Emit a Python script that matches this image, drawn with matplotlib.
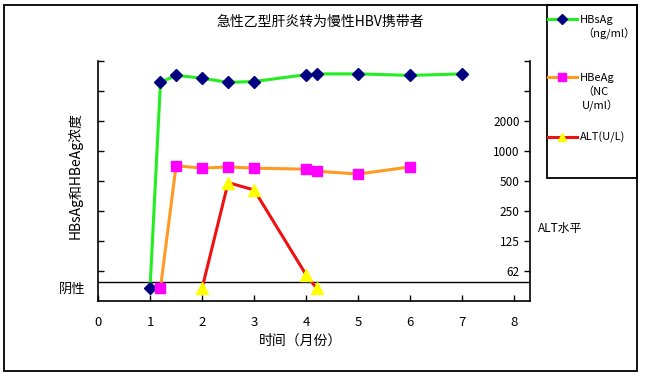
"""急性乙型肝炎转为慢性HBV携带者 chart."""

import matplotlib

matplotlib.use("Agg")
import matplotlib.pyplot as plt
from matplotlib.patches import Rectangle

# value used for "阴性" (negative) results, and the level of the divider line
NEG = 42
NEG_LINE = 48

months_s = [1, 1.2, 1.5, 2, 2.5, 3, 4, 4.2, 5, 6, 7]
hbsag = [NEG, 4850, 5700, 5350, 4850, 4950, 5800, 5900, 5900, 5700, 5900]

months_e = [1.2, 1.5, 2, 2.5, 3, 4, 4.2, 5, 6]
hbeag = [NEG, 710, 670, 690, 670, 655, 625, 585, 690]

months_alt = [2, 2.5, 3, 4, 4.2]
alt = [NEG, 480, 405, 57, NEG]

y_ticks = [62.5, 125, 250, 500, 1000, 2000, 4000, 8000]
y_labels = ["62", "125", "250", "500", "1000", "2000", "", ""]
x_ticks = [0, 1, 2, 3, 4, 5, 6, 7, 8]


def main() -> None:
    plt.rcParams["font.family"] = ["Noto Sans CJK SC", "DejaVu Sans"]
    W, H = 662, 390
    fig = plt.figure(figsize=(W / 100, H / 100), dpi=100)

    def fx(px):
        return px / W

    def fy(py):
        return 1 - py / H

    ax = fig.add_axes([fx(98), fy(301), fx(530) - fx(98), fy(60.7) - fy(301)])

    ax.plot(months_s, hbsag, color="#22ee22", lw=2.2, marker="D", ms=6.5,
            mfc="#000080", mec="#000080", label="HBsAg", zorder=3)
    ax.plot(months_e, hbeag, color="#ff9922", lw=2.2, marker="s", ms=7.5,
            mfc="#ff00ff", mec="#ff00ff", label="HBeAg", zorder=3)
    ax.plot(months_alt, alt, color="#ee1111", lw=2.2, marker="^", ms=8.5,
            mfc="#ffff00", mec="#ffff00", label="ALT(U/L)", zorder=4)
    ax.axhline(NEG_LINE, color="black", lw=1, zorder=2)

    ax.set_yscale("log", base=2)
    ax.set_ylim(31.25, 8000)
    ax.set_xlim(0, 8.3)
    ax.set_yticks(y_ticks, y_labels)
    ax.yaxis.set_minor_locator(matplotlib.ticker.FixedLocator([NEG]))
    ax.yaxis.set_minor_formatter(matplotlib.ticker.FixedFormatter(["阴性"]))
    ax.set_xticks(x_ticks)

    ax.spines["top"].set_visible(False)
    for s in ("left", "right", "bottom"):
        ax.spines[s].set_linewidth(1.2)

    ax.tick_params(axis="x", direction="in", length=4, width=1, pad=11, labelsize=9.5)
    ax.tick_params(axis="y", which="major", direction="in", length=4, width=1,
                   left=True, right=True, labelleft=False, labelright=True,
                   pad=-7.5, labelsize=8.5)
    ax.tick_params(axis="y", which="minor", length=0, left=True, right=False,
                   labelleft=True, labelright=False, pad=9, labelsize=9.5)
    for t in ax.yaxis.get_major_ticks():
        t.label2.set_horizontalalignment("right")

    ax.set_xlabel("时间（月份）", fontsize=10)
    ax.xaxis.set_label_coords((300 - 98) / 432, (301 - 334) / 240.3)
    ax.set_ylabel("HBsAg和HBeAg浓度", fontsize=10)
    ax.yaxis.set_label_coords((83 - 98) / 432, 0.52)

    fig.text(fx(320), fy(22), "急性乙型肝炎转为慢性HBV携带者", ha="center", va="center",
             fontsize=10)
    fig.text(fx(538), fy(228), "ALT水平", ha="left", va="center", fontsize=8.5)

    # outer frame and legend frame
    fig.patches.append(Rectangle((fx(4), fy(370.7)), fx(633), 365.7 / H, fill=False,
                                 lw=1.3, ec="black", transform=fig.transFigure))
    fig.patches.append(Rectangle((fx(547), fy(177.7)), fx(90), 172.7 / H, fill=False,
                                 lw=1.3, ec="black", transform=fig.transFigure))

    handles, labels = ax.get_legend_handles_labels()
    fig.legend(handles, labels, loc="upper left", bbox_to_anchor=(fx(548), fy(15)),
               frameon=False, fontsize=8, handlelength=2.6, handletextpad=0.25,
               labelspacing=4.35, borderpad=0, borderaxespad=0, markerscale=0.75)
    fig.text(fx(582), fy(34), "（ng/ml）", ha="left", va="center", fontsize=8)
    fig.text(fx(582), fy(92), "（NC", ha="left", va="center", fontsize=8)
    fig.text(fx(582), fy(106), "U/ml）", ha="left", va="center", fontsize=8)

    fig.savefig("out.png", dpi=100)


if __name__ == "__main__":
    main()
